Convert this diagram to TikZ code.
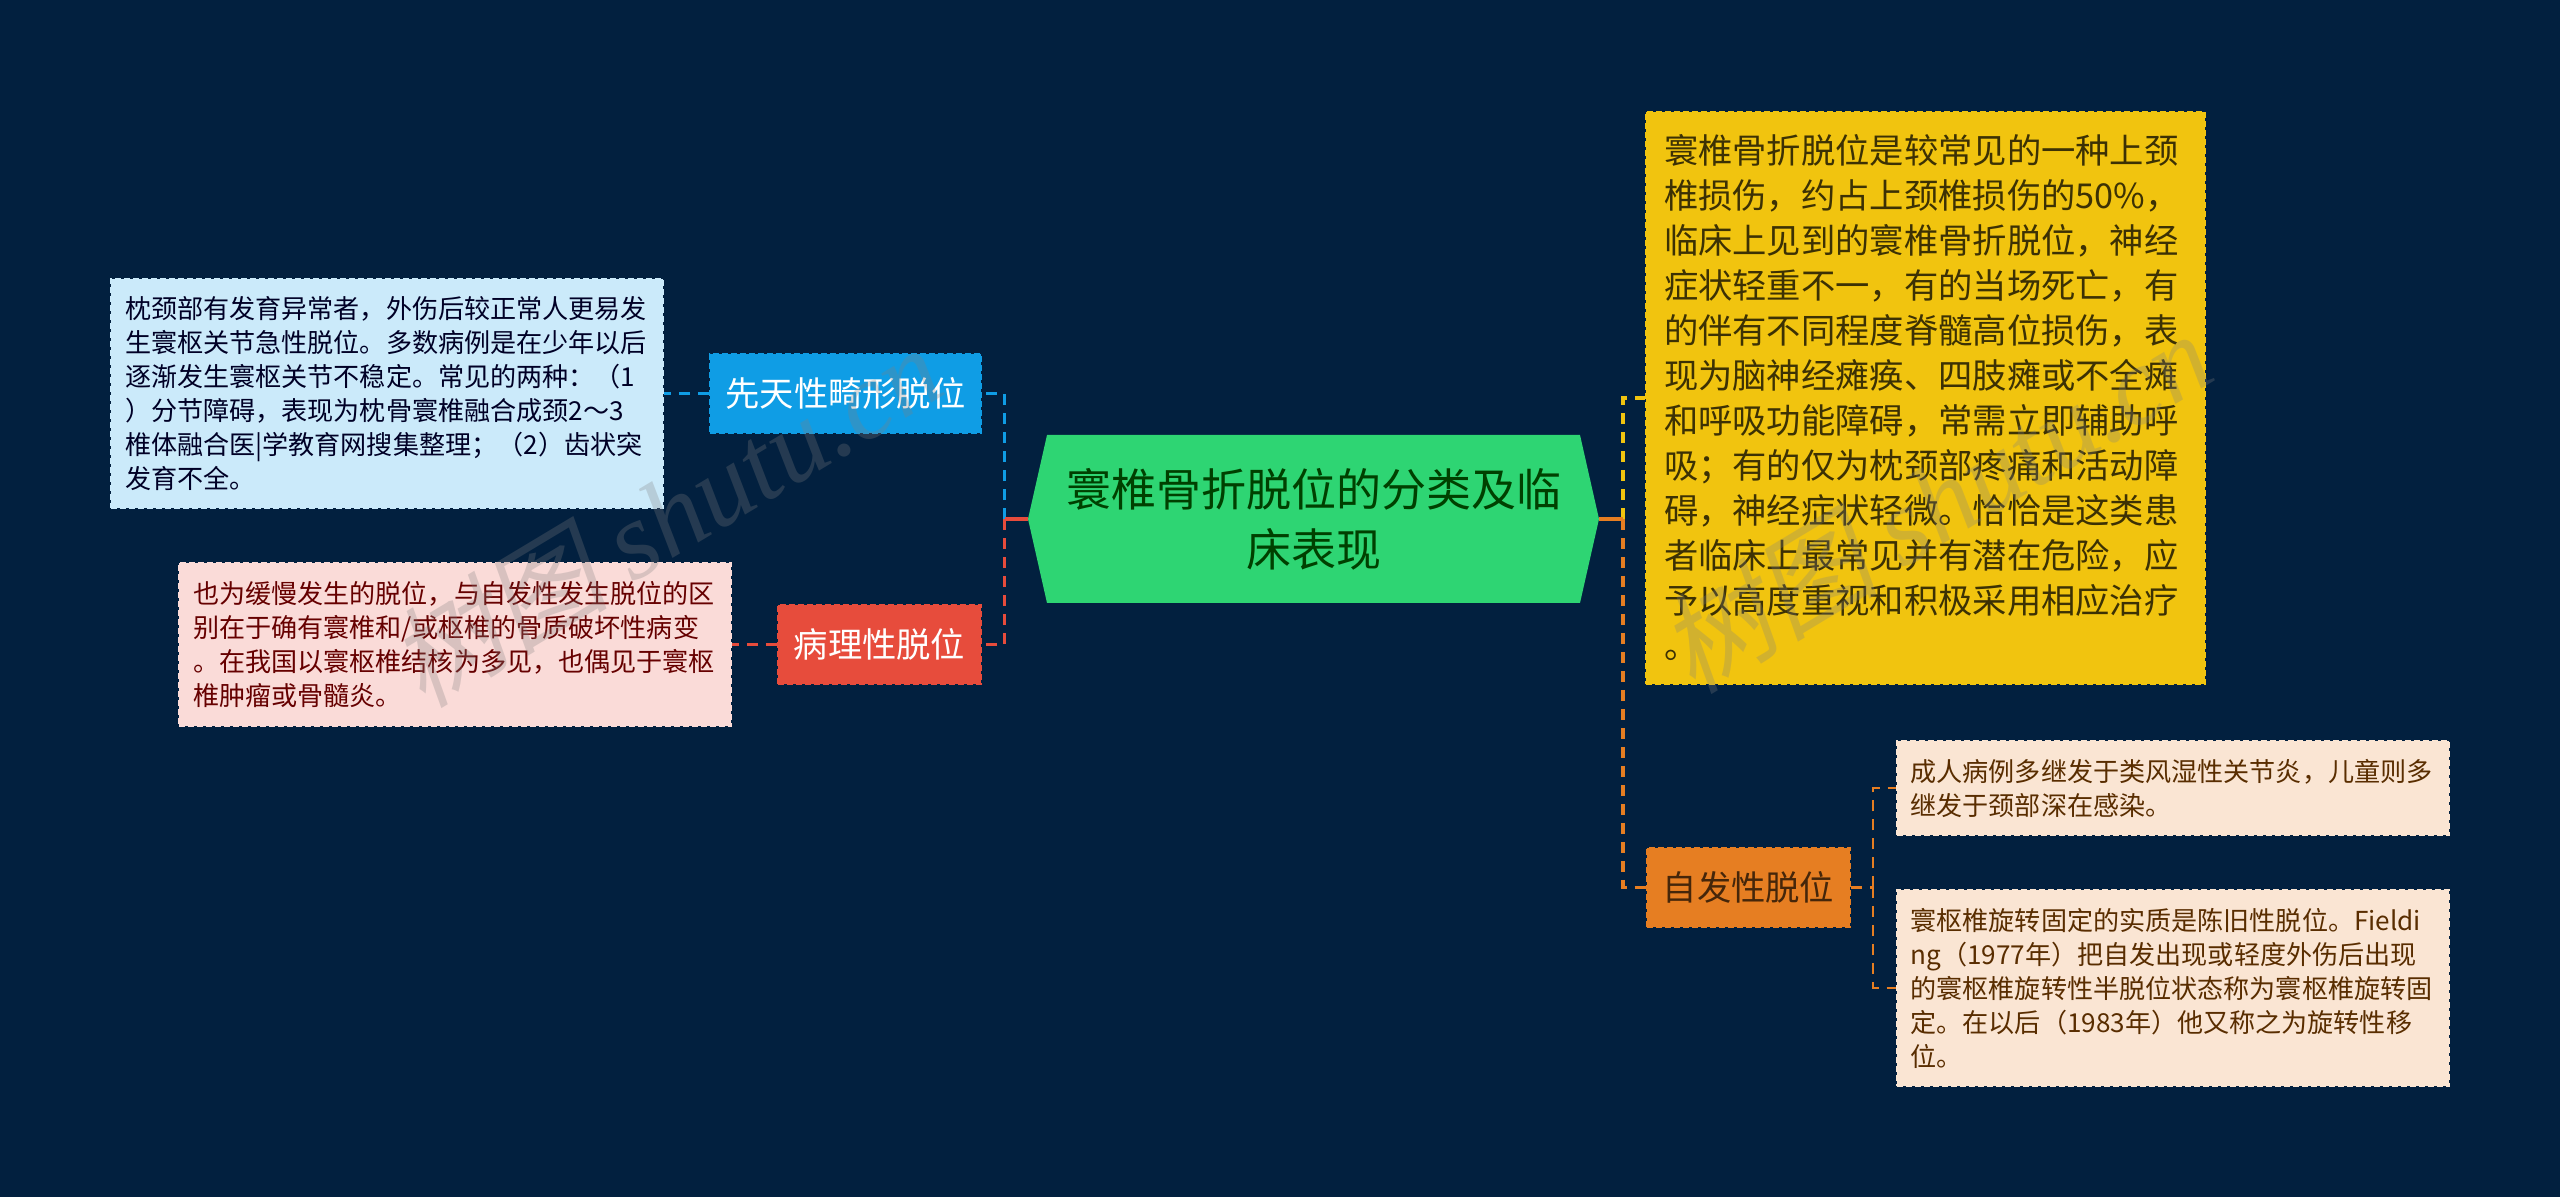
\documentclass[tikz,border=0pt]{standalone}
\usepackage{fontspec}
\setmainfont{Noto Sans CJK SC}
\newfontfamily\wmfont{Liberation Serif}
\newfontfamily\wmcjk[FakeSlant=0.2]{Noto Sans CJK SC}
\usetikzlibrary{shapes.symbols}
\definecolor{bgcol}{HTML}{02203F}
\definecolor{greencol}{HTML}{2ED573}
\definecolor{bluecol}{HTML}{0F9DE5}
\definecolor{bluelight}{HTML}{CBEAFA}
\definecolor{redcol}{HTML}{E74C3C}
\definecolor{redlight}{HTML}{FADBD8}
\definecolor{yellowcol}{HTML}{F1C40F}
\definecolor{orangecol}{HTML}{E67E22}
\definecolor{orangelight}{HTML}{FAE5D3}
\tikzset{
	anybox/.style={draw=#1,fill=#1,rectangle,dashed,dash pattern=on 6pt off 3pt,line width=2pt,align=left},
	detailbox/.style={anybox=#1,inner xsep=14pt,inner ysep=0pt,text width=524pt,minimum width=552pt,font=\fontsize{26.1}{34}\selectfont},
	branchbox/.style={anybox=#1,inner sep=0pt,minimum height=79pt,align=center,font=\fontsize{34.3}{40}\selectfont},
	link/.style={draw=#1,line width=3.5pt,dash pattern=on 11pt off 8pt},
	sublink/.style={draw=#1,line width=2.5pt,dash pattern=on 11pt off 8pt},
	stub/.style={draw=#1,line width=4pt},
	watermark/.style={gray,opacity=.28,rotate=31,font=\fontsize{110}{110}\selectfont}
}
\newcommand{\markname}{{\wmcjk 树图} {\wmfont\itshape shutu.cn}}
\begin{document}
\begin{tikzpicture}
		% background
		\fill[bgcol] (0pt,0pt) rectangle (2560pt,1197pt);
		\useasboundingbox (0pt,0pt) rectangle (2560pt,1197pt);
		
		% nodes
		\node[shape=signal,signal to=west and east,signal pointer angle=154.5,fill=greencol,inner sep=0pt,
			minimum width=571pt,minimum height=168pt,align=center,text=green!25!black,
			font=\fontsize{45}{60}\selectfont] (central) at (1313.5pt,678pt)
		{寰椎骨折脱位的分类及临\\床表现};
		
		\node[branchbox=bluecol,text=white,minimum width=271pt,left of = central,node distance=468pt,yshift=125.5pt] (congen) {先天性畸形脱位};
		\node[branchbox=redcol,text=white,minimum width=203pt,left of = central,node distance=434pt,yshift=-125.5pt] (patho) {病理性脱位};
		\node[branchbox=orangecol,text=black!70!orangecol,minimum width=203pt,right of = central,node distance=435pt,yshift=-368.5pt] (spont) {自发性脱位};
		
		\node[detailbox=bluelight,text=black!85!blue,minimum height=229pt,left of = congen,node distance=458.5pt] (congendetail) 
		{枕颈部有发育异常者，外伤后较正常人更易发\\
			生寰枢关节急性脱位。多数病例是在少年以后\\
			逐渐发生寰枢关节不稳定。常见的两种：（1\\
			）分节障碍，表现为枕骨寰椎融合成颈2～3\\
			椎体融合医|学教育网搜集整理；（2）齿状突\\
			发育不全。};
		
		\node[detailbox=redlight,text=red!40!black,minimum height=163pt,left of = patho,node distance=424.5pt] (pathodetail) 
		{也为缓慢发生的脱位，与自发性发生脱位的区\\
			别在于确有寰椎和/或枢椎的骨质破坏性病变\\
			。在我国以寰枢椎结核为多见，也偶见于寰枢\\
			椎肿瘤或骨髓炎。};
		
		\node[anybox=yellowcol,text=black!75!yellowcol,inner xsep=18pt,inner ysep=0pt,text width=523pt,minimum width=559pt,minimum height=572pt,
			font=\fontsize{34.3}{45}\selectfont,right of = central,node distance=612pt,yshift=121pt] (summary) 
		{寰椎骨折脱位是较常见的一种上颈\\
			椎损伤，约占上颈椎损伤的50\%，\\
			临床上见到的寰椎骨折脱位，神经\\
			症状轻重不一，有的当场死亡，有\\
			的伴有不同程度脊髓高位损伤，表\\
			现为脑神经瘫痪、四肢瘫或不全瘫\\
			和呼吸功能障碍，常需立即辅助呼\\
			吸；有的仅为枕颈部疼痛和活动障\\
			碍，神经症状轻微。恰恰是这类患\\
			者临床上最常见并有潜在危险，应\\
			予以高度重视和积极采用相应治疗\\
			。};
		
		\node[detailbox=orangelight,text=orange!35!black,minimum height=94pt,right of = spont,node distance=424pt,yshift=99.5pt] (spontfirst) 
		{成人病例多继发于类风湿性关节炎，儿童则多\\
			继发于颈部深在感染。};
		
		\node[detailbox=orangelight,text=orange!35!black,minimum height=196pt,right of = spont,node distance=424pt,yshift=-100.5pt] (spontsecond) 
		{寰枢椎旋转固定的实质是陈旧性脱位。Fieldi\\
			ng（1977年）把自发出现或轻度外伤后出现\\
			的寰枢椎旋转性半脱位状态称为寰枢椎旋转固\\
			定。在以后（1983年）他又称之为旋转性移\\
			位。};
		
		% trunks
		\coordinate (lefttrunk) at (1004.5pt,678pt);
		\coordinate (righttrunk) at (1623pt,678pt);
		\coordinate (subtrunk) at (1873pt,309.5pt);
		
		% connectors
		\draw[link=bluecol] (lefttrunk) |- (congen.east);
		\draw[link=redcol] (lefttrunk) |- (patho.east);
		\draw[link=yellowcol] (righttrunk) |- (summary.west);
		\draw[link=orangecol] (righttrunk) |- (spont.west);
		\draw[stub=redcol] (central.west) -- (lefttrunk);
		\draw[stub=orangecol] (central.east) -- (righttrunk);
		\draw[sublink=bluecol] (congen.west) -- (congendetail.east);
		\draw[sublink=redcol] (patho.west) -- (pathodetail.east);
		\draw[sublink=orangecol] (spont.east) -- (subtrunk);
		\draw[sublink=orangecol] (subtrunk) |- (spontfirst.west);
		\draw[sublink=orangecol] (subtrunk) |- (spontsecond.west);
		
		% site mark
		\node[watermark] (markleft) at (665pt,682pt) {\markname};
		\node[watermark] (markright) at (1935pt,696pt) {\markname};
\end{tikzpicture}
\end{document}
